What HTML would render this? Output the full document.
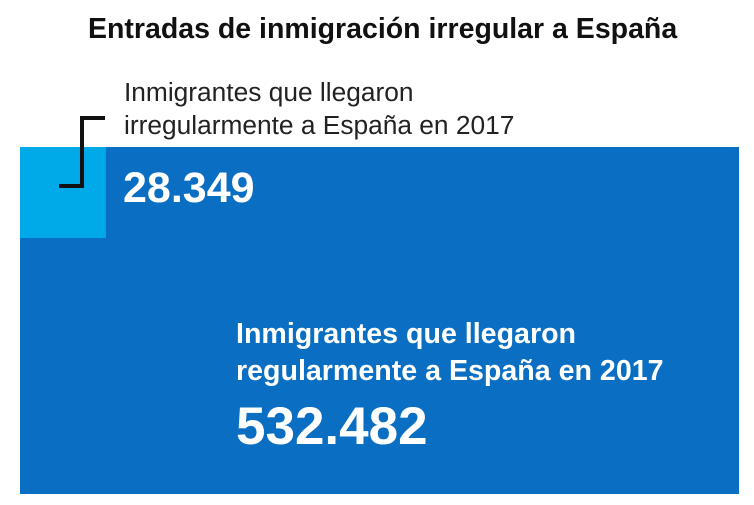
<!DOCTYPE html>
<html><head><meta charset="utf-8"><style>
body{margin:0;width:754px;height:505px;background:#fff;font-family:"Liberation Sans",sans-serif;position:relative;overflow:hidden}
.t{position:absolute;white-space:nowrap}
</style></head><body>
<div class="t" style="left:88px;top:13px;font-size:28.5px;font-weight:bold;color:#111">Entradas de inmigración irregular a España</div>
<svg id="c" width="754" height="505" style="position:absolute;left:0;top:0"></svg>
<div class="t" style="left:124px;top:76px;font-size:26.3px;line-height:33px;color:#222">Inmigrantes que llegaron<br>irregularmente a España en 2017</div>
<div class="t" id="irrv" style="left:123px;top:164px;font-size:43px;font-weight:bold;color:#fff"></div>
<div class="t" style="left:236px;top:316px;font-size:28.6px;line-height:37px;font-weight:bold;color:#fff">Inmigrantes que llegaron<br>regularmente a España en 2017</div>
<div class="t" id="regv" style="left:236px;top:396px;font-size:53px;font-weight:bold;color:#fff"></div>
<script>
const categories=["irregular","regular"];
const values=[28349,532482];
const NS="http://www.w3.org/2000/svg";
const svg=document.getElementById('c');
const X0=20,Y0=147,W=719,H=347;
const total=values[0]+values[1];
function side(v){return Math.sqrt(v/total)*382;}
function fmt(v){return v.toString().replace(/\B(?=(\d{3})+(?!\d))/g,'.');}
const big=document.createElementNS(NS,'rect');


big.setAttribute('x',X0);big.setAttribute('y',Y0);big.setAttribute('width',W);big.setAttribute('height',H);big.setAttribute('fill','#0a6fc2');
svg.appendChild(big);
const s=side(values[0]);
const sm=document.createElementNS(NS,'rect');


sm.setAttribute('x',X0);sm.setAttribute('y',Y0);sm.setAttribute('width',s);sm.setAttribute('height',s*1.06);sm.setAttribute('fill','#00a9e8');
svg.appendChild(sm);
const br=document.createElementNS(NS,'path');


br.setAttribute('d','M59 186 H82 V118 H105');br.setAttribute('stroke','#111');br.setAttribute('stroke-width','4');br.setAttribute('fill','none');
svg.appendChild(br);
document.getElementById('irrv').textContent=fmt(values[0]);
document.getElementById('regv').textContent=fmt(values[1]);
</script>
</body></html>
